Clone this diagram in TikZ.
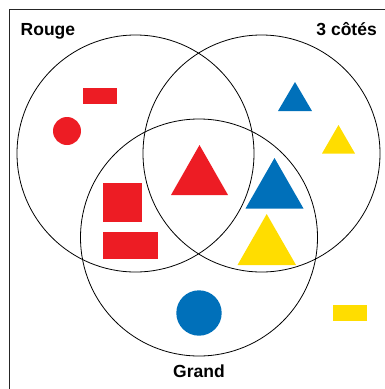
\documentclass[tikz,border=0pt]{standalone}
\usepackage{fontspec}
\setmainfont{Liberation Sans}
\definecolor{vred}{HTML}{ED1C24}
\definecolor{vblue}{HTML}{0070BA}
\definecolor{vyellow}{HTML}{FFDD00}
\begin{document}
\begin{tikzpicture}[x=1pt,y=-1pt,
  setc/.style={circle,draw=black,line width=0.8pt,minimum size=237pt,inner sep=0pt},
  lbl/.style={font=\fontsize{17.5}{20}\selectfont\bfseries,inner sep=0pt},
  shp/.style={draw=none}]
\useasboundingbox (0,0) rectangle (385,389);
\begin{scope}
\clip (0,0) rectangle (385,389);
\draw[line width=0.9pt,black!85] (9,9) rectangle (420,420);
\end{scope}
% circles
\node[setc] (rouge) at (135.5,153.5) {};
\node[setc] (cotes) at (261.5,153.5) {};
\node[setc] (grand) at (199,237.5) {};
% labels
\node[lbl,anchor=base west] (lrouge) at (20.5,35.5) {Rouge};
\node[lbl,anchor=base east] (lcotes) at (377,35.5) {3 côtés};
\node[lbl,anchor=base] (lgrand) at (199,377.5) {Grand};
% shapes
\fill[vred] (83,88) rectangle (117,104);
\fill[vred] (67,131) circle (14);
\fill[vblue] (295,82) -- (312,111) -- (278,111) -- cycle;
\fill[vyellow] (338.5,125) -- (355,153.5) -- (322,153.5) -- cycle;
\fill[vred] (199.5,145) -- (228,195) -- (171,195) -- cycle;
\fill[vblue] (274.5,158) -- (303.5,208.5) -- (245.5,208.5) -- cycle;
\fill[vyellow] (266.7,214) -- (296,265) -- (237.5,265) -- cycle;
\fill[vred] (102.7,183.3) rectangle (141.7,222.3);
\fill[vred] (102.7,232) rectangle (158.3,259.3);
\fill[vblue] (199,313) circle (22.7);
\fill[vyellow] (332.7,304.7) rectangle (366.7,321);
\end{tikzpicture}
\end{document}
